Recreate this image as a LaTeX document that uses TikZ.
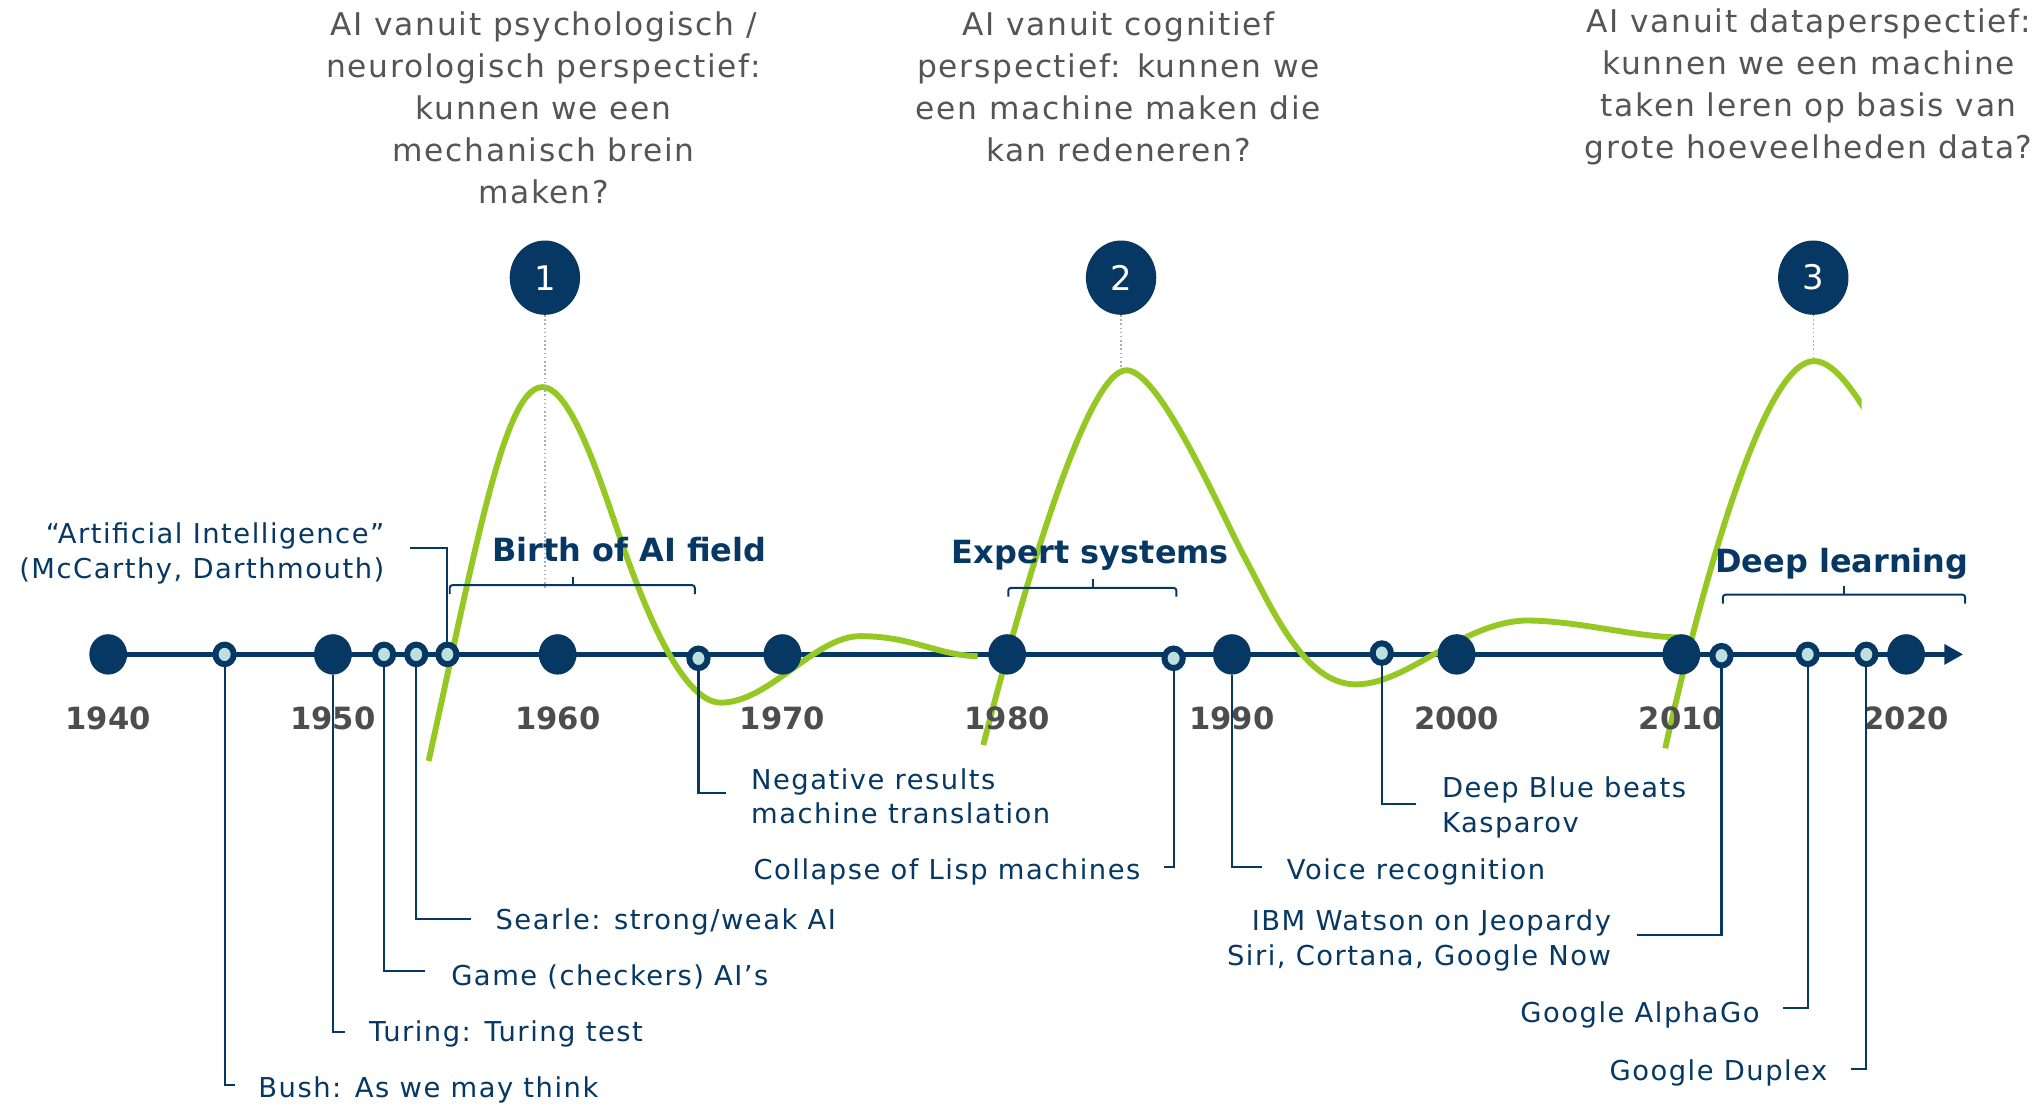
\documentclass[tikz,border=0pt]{standalone}
\usepackage{fontspec}
\setmainfont{DejaVu Sans}
\newfontfamily\lblfont[LetterSpace=5.5]{DejaVu Sans}
\usetikzlibrary{arrows.meta,shapes.geometric,backgrounds}
\definecolor{navy}{RGB}{7,56,99}
\definecolor{lime}{RGB}{150,200,36}
\definecolor{ice}{RGB}{188,224,224}
\definecolor{qgray}{RGB}{85,85,85}
\definecolor{ygray}{RGB}{77,77,77}
\definecolor{dotgray}{RGB}{175,175,175}
\tikzset{
  bigdot/.style={ellipse, minimum width=29pt, minimum height=31pt, inner sep=0pt, fill=navy, draw=none},
  ring/.style={ellipse, minimum width=14pt, minimum height=15pt, inner sep=0pt, draw=navy, line width=4.6pt, fill=ice},
  numcirc/.style={ellipse, minimum width=54pt, minimum height=57pt, inner sep=0pt, fill=navy, text=white, font=\fontsize{26}{30}\selectfont},
  lbl/.style={text=navy, font=\lblfont\fontsize{21}{26.5}\selectfont, inner sep=0pt},
  ques/.style={text=qgray, font=\lblfont\fontsize{24}{32.2}\selectfont, align=center, inner sep=0pt},
  yearlbl/.style={text=ygray, font=\bfseries\fontsize{23.5}{28}\selectfont, inner sep=0pt, anchor=base},
  eratitle/.style={text=navy, font=\bfseries\fontsize{24.5}{29}\selectfont, inner sep=0pt, anchor=base},
  calloutline/.style={draw=navy, line width=1.6pt},
  bracketline/.style={draw=navy, line width=1.5pt, rounded corners=2pt},
  wave/.style={draw=lime, line width=4.5pt},
  guide/.style={draw=dotgray, line width=1.2pt, dotted},
  axisline/.style={draw=navy, line width=3.5pt, -{Triangle[length=14.5pt,width=15pt]}}
}
\begin{document}
\begin{tikzpicture}[x=1pt,y=-1pt]
\useasboundingbox (0,0) rectangle (1568,848);

% decade dots
\foreach \yr/\xx in {1940/83,1950/255.4,1960/427.8,1970/600.2,1980/772.6,1990/945,2000/1117.4,2010/1289.8,2020/1462.2}{
  \node[bigdot] (d\yr) at (\xx,502) {};
  \node[yearlbl] (y\yr) at (\xx,559.5) {\yr};
}
% event markers
\node[ring] (m1945) at (172.3,502) {};
\node[ring] (m1952) at (294.6,502) {};
\node[ring] (m1953) at (319.3,502) {};
\node[ring] (m1956) at (343.2,502) {};
\node[ring] (m1966) at (535.8,505) {};
\node[ring] (m1987) at (900.3,505) {};
\node[ring] (m1997) at (1060,501) {};
\node[ring] (m2011) at (1320.6,503) {};
\node[ring] (m2016) at (1386.7,502) {};
\node[ring] (m2018) at (1431.7,502) {};
\coordinate (axisend) at (1506,502);

\begin{scope}[on background layer]
  \fill[white] (0,0) rectangle (1568,848);
  \draw[axisline] (d1940.center) -- (axisend);
  \draw[wave] (328.8,583.7) .. controls (365,420) and (387,297) .. (416,297)
     .. controls (440,297) and (464,380.5) .. (480,425)
     .. controls (498,475) and (525,539) .. (553,539)
     .. controls (590,539) and (625,488) .. (660,488)
     .. controls (700,488) and (720,503) .. (750,503.4);
  \draw[wave] (754.3,571.5) .. controls (788,440) and (835,284) .. (864,284)
     .. controls (890,284) and (937,394.5) .. (955,428)
     .. controls (975,465) and (1000,525) .. (1040,525)
     .. controls (1080,525) and (1120,478) .. (1170,476)
     .. controls (1210,476) and (1250,488) .. (1287,489);
  \begin{scope}
    \clip (1200,200) rectangle (1428,620);
    \draw[wave] (1277.4,574) .. controls (1310,430) and (1355,277) .. (1391.5,277)
       .. controls (1405,277) and (1420,295) .. (1440,330);
  \end{scope}
\end{scope}

% numbered circles and guides
\node[numcirc] (n1) at (418,213) {1};
\node[numcirc] (n2) at (860,213) {2};
\node[numcirc] (n3) at (1391,213) {3};
\coordinate (g1) at (418,451);
\coordinate (g2) at (860,284);
\coordinate (g3) at (1391,277);
\draw[guide] (n1.south) -- (g1);
\draw[guide] (n2.south) -- (g2);
\draw[guide] (n3.south) -- (g3);

% questions
\node[ques] (q1) at (417,82.5) {AI vanuit psychologisch /\\neurologisch perspectief:\\kunnen we een\\mechanisch brein\\maken?};
\node[ques] (q2) at (858,66.5) {AI vanuit cognitief\\perspectief: kunnen we\\een machine maken die\\kan redeneren?};
\node[ques] (q3) at (1387.5,66.5) {AI vanuit dataperspectief:\\kunnen we een machine\\taken leren op basis van\\grote hoeveelheden data?};

% era titles and brackets
\node[eratitle] (e1) at (482.8,430.5) {Birth of AI field};
\node[eratitle] (e2) at (836.5,432.5) {Expert systems};
\node[eratitle] (e3) at (1413,439) {Deep learning};
\draw[bracketline] (345,455.7) -- (345,448.9) -- (533,448.9) -- (533,455.7);
\draw[navy, line width=1.5pt] (439.6,448.9) -- (439.6,442.6);
\draw[bracketline] (773.5,457.6) -- (773.5,451) -- (902.4,451) -- (902.4,457.6);
\draw[navy, line width=1.5pt] (838.4,451) -- (838.4,444.5);
\draw[bracketline] (1321.7,463) -- (1321.7,456.2) -- (1507.5,456.2) -- (1507.5,463);
\draw[navy, line width=1.5pt] (1414.5,456.2) -- (1414.5,449.7);

% labels
\node[lbl, anchor=base west] (tBush) at (198,842) {Bush: As we may think};
\node[lbl, anchor=base west] (tTuring) at (283,799) {Turing: Turing test};
\node[lbl, anchor=base west] (tGame) at (346,756) {Game (checkers) AI’s};
\node[lbl, anchor=base west] (tSearle) at (380,713) {Searle: strong/weak AI};
\node[lbl, anchor=east, align=right] (tAI) at (295,424.5) {“Artificial Intelligence”\\(McCarthy, Darthmouth)};
\node[lbl, anchor=west, align=left] (tNeg) at (576,611) {Negative results\\machine translation};
\node[lbl, anchor=base east] (tCollapse) at (875,675) {Collapse of Lisp machines};
\node[lbl, anchor=base west] (tVoice) at (987,675) {Voice recognition};
\node[lbl, anchor=west, align=left] (tDeep) at (1106,619.5) {Deep Blue beats\\Kasparov};
\node[lbl, anchor=east, align=right] (tIBM) at (1236,721.5) {IBM Watson on Jeopardy\\Siri, Cortana, Google Now};
\node[lbl, anchor=base east] (tAlpha) at (1350,784) {Google AlphaGo};
\node[lbl, anchor=base east] (tDuplex) at (1402,829) {Google Duplex};

% callout connector ends
\coordinate (cBush) at (180,832);
\coordinate (cTuring) at (265,792);
\coordinate (cGame) at (326,745);
\coordinate (cSearle) at (361,705);
\coordinate (cAI) at (314.6,420.7);
\coordinate (cNeg) at (557,608);
\coordinate (cCollapse) at (893,665);
\coordinate (cVoice) at (968,665);
\coordinate (cDeep) at (1086,617);
\coordinate (cIBM) at (1256,717);
\coordinate (cAlpha) at (1368,773);
\coordinate (cDuplex) at (1420,820);

\draw[calloutline] (m1945.south) |- (cBush);
\draw[calloutline] (d1950.south) |- (cTuring);
\draw[calloutline] (m1952.south) |- (cGame);
\draw[calloutline] (m1953.south) |- (cSearle);
\draw[calloutline] (m1956.north) |- (cAI);
\draw[calloutline] (m1966.south) |- (cNeg);
\draw[calloutline] (m1987.south) |- (cCollapse);
\draw[calloutline] (d1990.south) |- (cVoice);
\draw[calloutline] (m1997.south) |- (cDeep);
\draw[calloutline] (m2011.south) |- (cIBM);
\draw[calloutline] (m2016.south) |- (cAlpha);
\draw[calloutline] (m2018.south) |- (cDuplex);
\end{tikzpicture}
\end{document}
